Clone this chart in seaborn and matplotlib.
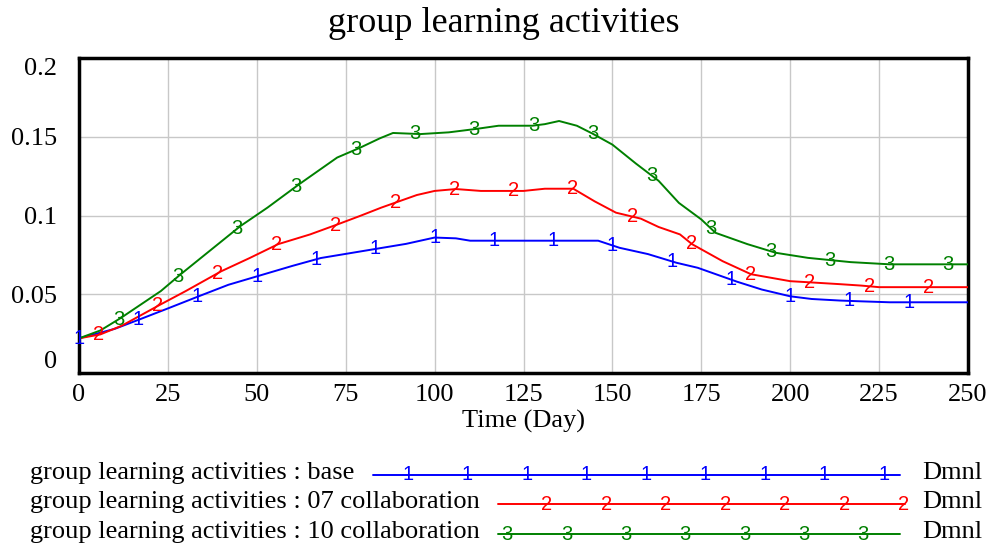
import numpy as np
import pandas as pd
import seaborn as sns
import matplotlib.pyplot as plt

## Donnees (Vensim)

t_base = [0, 5, 10, 17, 25, 34, 42, 51, 60, 68, 76, 84, 92, 100, 106, 110, 146, 152,
          160, 168, 174, 180, 185, 192, 200, 206, 214, 220, 228, 250]
v_base = [0.022, 0.025, 0.028, 0.034, 0.041, 0.049, 0.056, 0.062, 0.068, 0.073, 0.076,
          0.079, 0.082, 0.086, 0.0855, 0.084, 0.084, 0.0795, 0.0755, 0.070, 0.0668, 0.062,
          0.058, 0.053, 0.0487, 0.047, 0.046, 0.0455, 0.0449, 0.0449]

t_07 = [0, 6, 12, 23, 30, 40, 48, 56, 65, 73, 79, 85, 90, 95, 100, 106, 113, 125, 131,
        139, 145, 151, 158, 163, 169, 172.4, 181, 189, 200, 206, 214, 220, 225, 250]
v_07 = [0.022, 0.0245, 0.030, 0.0436, 0.052, 0.0646, 0.073, 0.0818, 0.088, 0.0946, 0.0997,
        0.105, 0.109, 0.113, 0.1156, 0.1168, 0.1156, 0.1156, 0.117, 0.117, 0.109, 0.1018,
        0.098, 0.0927, 0.088, 0.0818, 0.071, 0.0627, 0.0583, 0.0575, 0.0564, 0.0555,
        0.0545, 0.0545]

t_10 = [0, 6, 11.8, 23, 28.6, 37, 45.4, 53, 62, 72.6, 79, 84.6, 88.3, 96, 104, 111.8, 118,
        127.5, 131, 135, 140, 144.4, 150, 156.6, 163, 168.7, 175, 179, 188, 196, 205, 217,
        228, 250]
v_10 = [0.022, 0.027, 0.035, 0.052, 0.0627, 0.078, 0.0933, 0.105, 0.120, 0.1368, 0.143,
        0.149, 0.1524, 0.1517, 0.1528, 0.155, 0.157, 0.157, 0.158, 0.160, 0.157, 0.152,
        0.145, 0.133, 0.122, 0.108, 0.0975, 0.089, 0.0818, 0.0763, 0.0731, 0.0704, 0.069,
        0.069]

runs = ["base", "07 collaboration", "10 collaboration"]
couleurs = ["#0000FF", "#FF0000", "#008000"]
chiffres = ["1", "2", "3"]

y_ticks = [0, 0.05, 0.1, 0.15, 0.2]
y_labels = ["0", "0.05", "0.1", "0.15", "0.2"]
x_ticks = [0, 25, 50, 75, 100, 125, 150, 175, 200, 225, 250]

series = [(t_base, v_base), (t_07, v_07), (t_10, v_10)]

df = pd.concat([pd.DataFrame({"Time": t, "value": v, "run": r})
                for (t, v), r in zip(series, runs)], ignore_index=True)

## Figure

sns.set_style("white")
plt.rcParams["font.family"] = ["Liberation Serif", "DejaVu Serif"]
for k in ["text.color", "axes.labelcolor", "xtick.color", "ytick.color"]:
    plt.rcParams[k] = "black"

fig = plt.figure(figsize=(9.93, 5.52), dpi=100)
ax = fig.add_axes([79 / 993, 1 - 373 / 552, (968 - 79) / 993, (373 - 58) / 552])

sns.lineplot(data=df, x="Time", y="value", hue="run", palette=couleurs, hue_order=runs,
             linewidth=1.4, legend=False, ax=ax, zorder=3)

# chiffres Vensim le long des courbes
for i, (t, v) in enumerate(series):
    pos = i * 250 / 45 + np.arange(15) * 250 / 15
    for p in pos:
        ax.text(p, np.interp(p, t, v), chiffres[i], color=couleurs[i], ha="center",
                va="center", fontsize=14.5, family="Liberation Sans", zorder=4)

ax.set_xlim(0, 250)
ax.set_ylim(0, 0.2)
ax.set_xticks(x_ticks)
ax.set_xticklabels([str(x) for x in x_ticks])
ax.set_yticks(y_ticks)
ax.set_yticklabels(y_labels)
ax.grid(color="#c8c8c8", linewidth=1)
ax.tick_params(length=0, labelsize=19)
ax.tick_params(axis="y", pad=16)
ax.tick_params(axis="x", pad=8)
ylabs = ax.get_yticklabels()
ylabs[0].set_va("bottom")
ylabs[-1].set_va("top")
for s in ax.spines.values():
    s.set_linewidth(2.5)
    s.set_color("black")
ax.set_xlabel("Time (Day)", fontsize=19, labelpad=3)
ax.set_ylabel("")

fig.text(504 / 993, 1 - 23 / 552, "group learning activities", ha="center", va="center",
         fontsize=26)

## Legende en bas

lg = fig.add_axes([0, 0, 1, 1], zorder=-1)
lg.set_xlim(0, 993)
lg.set_ylim(552, 0)
lg.axis("off")

leg_y = [475, 504, 534]
leg_x0 = [373, 498, 498]
leg_x1 = [900, 905, 900]
leg_m = [np.linspace(408, 884, 9), np.linspace(547, 904, 7), np.linspace(507, 863, 7)]

for i, r in enumerate(runs):
    lg.text(30, leg_y[i] - 2, "group learning activities : " + r, fontsize=19, va="center")
    lg.plot([leg_x0[i], leg_x1[i]], [leg_y[i], leg_y[i]], color=couleurs[i], lw=1.4)
    for m in leg_m[i]:
        lg.text(m, leg_y[i], chiffres[i], color=couleurs[i], ha="center", va="center",
                fontsize=14.5, family="Liberation Sans")
    lg.text(922, leg_y[i] - 2, "Dmnl", fontsize=19, va="center")

plt.savefig("out.png", dpi=100)
